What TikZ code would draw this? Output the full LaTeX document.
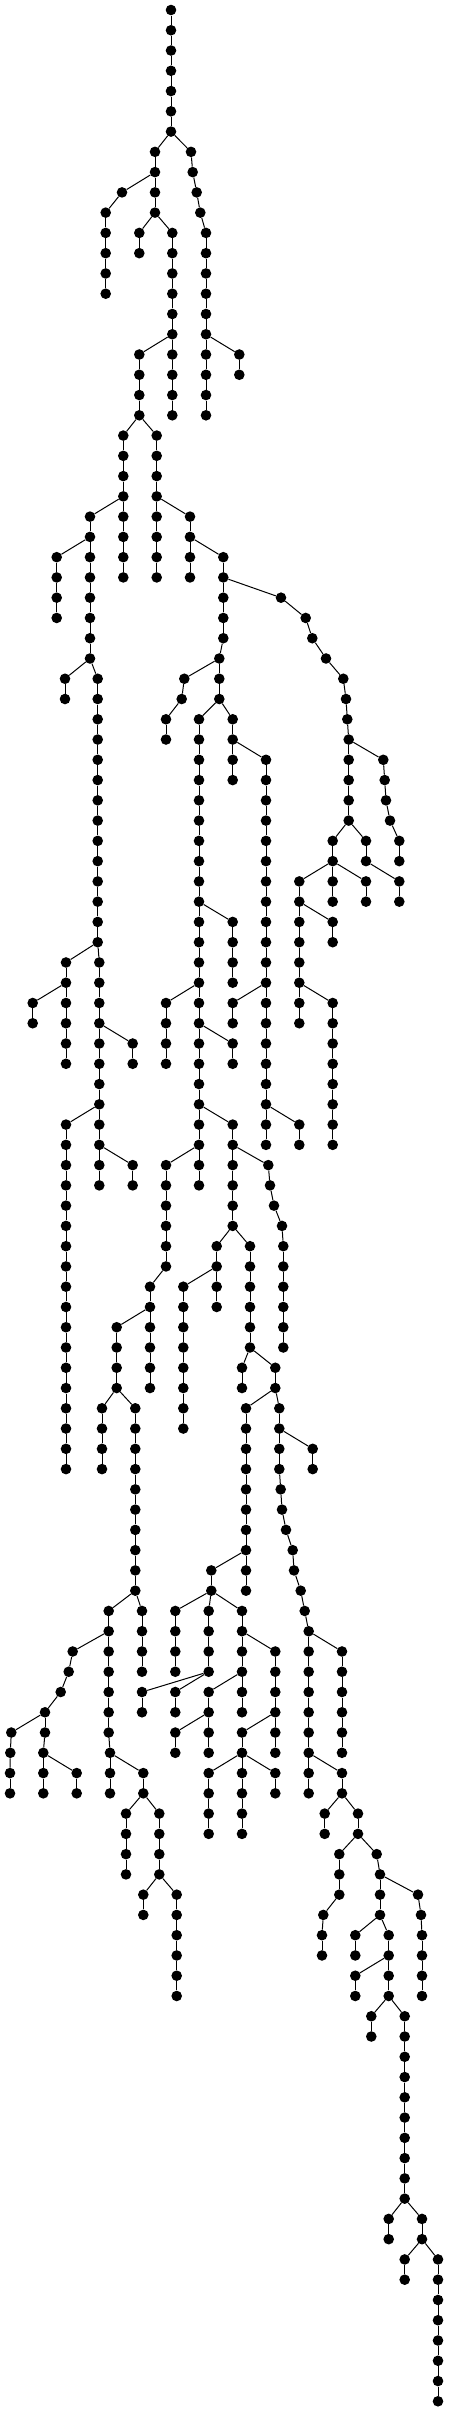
\documentclass[tikz,border=0pt]{standalone}
\tikzset{
  treedot/.style={circle, fill=black, draw=none, inner sep=0pt, minimum size=10.6pt},
  treeedge/.style={draw=black, line width=1pt}
}
\newcommand\seg[4]{%
  \foreach \xx [count=\i from 0, remember=\i as \j (initially 0)] in {#4} {%
    \pgfmathsetmacro\yy{10+20.265*(#3+\i)}%
    \node[treedot] (#1-\i) at (\xx,\yy) {};%
    \ifnum\i=0 \draw[treeedge] (#2) -- (#1-\i);\else \draw[treeedge] (#1-\j) -- (#1-\i);\fi
  }%
}
\begin{document}
\begin{tikzpicture}[x=1pt,y=-1pt]
\fill[white] (0,0) rectangle (448,2412);
\useasboundingbox (0,0) rectangle (448,2412);
\node[treedot] (root) at (171,10) {};
\seg{R}{root}{1}{171,171,171,171,171,171}
\seg{A}{R-5}{7}{155,155,155,155}
\seg{B}{R-5}{7}{191,192.7,196.7,200.3,206,206,206,206,206,206,206,206,206,206}
\seg{C}{A-1}{9}{122,105.7,105.7,105.7,105.7,105.7}
\seg{D}{B-9}{17}{239.3,239.3}
\seg{E}{A-3}{11}{139.3,139.3}
\seg{F}{A-3}{11}{172.3,172.3,172.3,172.3,172.3,172.3,172.3,172.3,172.3,172.3}
\seg{G}{F-5}{17}{139.3,139.3,139.3,139.3}
\seg{H}{G-3}{21}{123.3,123.3,123.3,123.3,123.3,123.3,123.3,123.3}
\seg{I}{G-3}{21}{156.7,156.7,156.7,156.7,156.7,156.7,156.7,156.7}
\seg{J}{H-3}{25}{90,90,90,90,90,90,90,90}
\seg{K}{J-1}{27}{56.7,56.7,56.7,56.7}
\seg{L}{I-3}{25}{190,190,190,190}
\seg{M}{L-1}{27}{223.3,223.3,223.3,223.3,223.3,219.3,219.3,219.3}
\seg{N}{M-1}{29}{281,305.7,312.3,326,343.3,346,347.3,348.7,348.7,348.7,348.7,348.7}
\seg{O}{J-7}{33}{65,65}
\seg{P}{J-7}{33}{97.7,97.7,97.7,97.7,97.7,97.7,97.7,97.7,97.7,97.7,97.7,97.7,97.7,97.7,99.3,99.3,99.3,99.3,99.3,99.3,99.3,99.3,99.3,99.3,99.3,99.3}
\seg{Q}{M-5}{33}{184.3,181.7,166,166}
\seg{S}{M-7}{35}{199,199,199,199,199,199,199,199,199,199,199,199,199,199,199,199,199,199,199,199,199,199,199,199}
\seg{T}{M-7}{35}{232.7,232.7,232.7,232.7}
\seg{U}{T-1}{37}{266,266,266,266,266,266,266,266,266,266,266,266,266,266,266,266,266,266,266,266}
\seg{V}{N-7}{37}{383.3,384.7,386,390,399.3,399.3}
\seg{W}{N-11}{41}{332.7,332.7}
\seg{X}{N-11}{41}{366,366}
\seg{Y}{P-13}{47}{66,66,66,66,66,66}
\seg{Z}{Y-1}{49}{32.7,32.7}
\seg{AA}{P-17}{51}{132.7,132.7}
\seg{AB}{P-21}{55}{66,66,66,66,66,66,66,66,66,66,66,66,66,66,66,66,66,66}
\seg{AC}{P-23}{57}{132.7,132.7}
\seg{AD}{S-9}{45}{232.7,232.7,232.7,232.7}
\seg{AE}{S-13}{49}{166,166,166,166}
\seg{AF}{S-15}{51}{232.7,232.7}
\seg{AG}{S-21}{57}{166,166,166,166,166,166,150,150,150,150,150,150}
\seg{AH}{AG-7}{65}{116.7,116.7,116.7,116.7}
\seg{AI}{AH-3}{69}{102,102,102,102}
\seg{AJ}{AH-3}{69}{135.3,135.3,135.3,135.3,135.3,135.3,135.3,135.3,135.3,135.3}
\seg{AK}{S-19}{55}{232.7,232.7,232.7,232.7,232.7,232.7}
\seg{AL}{AK-1}{57}{268.3,270,274,282,283.3,283.3,283.3,283.3,283.3,283.3}
\seg{AM}{AK-5}{61}{216.7,216.7,216.7,216.7}
\seg{AN}{AM-1}{63}{183.3,183.3,183.3,183.3,183.3,183.3,183.3,183.3}
\seg{AO}{AK-5}{61}{250,250,250,250,250,250}
\seg{AP}{AO-5}{67}{242,242}
\seg{AQ}{AO-5}{67}{275.3,275.3}
\seg{AR}{AQ-1}{69}{246,246,246,246,246,246,246,246,246,246}
\seg{AS}{AQ-1}{69}{279.3,279.3,279.3,279.3,280.7,282,286,292.7,294,300.7,304.7,308.7,308.7,308.7,308.7,308.7,308.7,308.7,308.7,308.7}
\seg{AT}{AS-1}{71}{312.7,312.7}
\seg{AU}{U-11}{49}{232.7,232.7}
\seg{AV}{U-17}{55}{299.3,299.3}
\seg{AW}{W-1}{43}{299.3,299.3,299.3,299.3,299.3,299.3,299.3,299.3}
\seg{AX}{W-1}{43}{332.7,332.7}
\seg{AY}{W-1}{43}{366,366}
\seg{AZ}{AW-1}{45}{332.7,332.7}
\seg{BA}{AW-5}{49}{332.7,332.7,332.7,332.7,332.7,332.7,332.7,332.7}
\seg{BB}{X-1}{43}{399.3,399.3}
\seg{BC}{AJ-9}{79}{108.7,108.7,108.7,108.7,108.7,108.7,108.7,110,110,110}
\seg{BD}{BC-1}{81}{72.7,68.7,60.7,45,45,43.3,43.3,43.3}
\seg{BE}{BD-3}{85}{11.3,10.3,10,10}
\seg{BF}{BD-5}{87}{76.7,76.7}
\seg{BG}{AJ-9}{79}{142,142,142,142}
\seg{BH}{AR-7}{77}{211.3,211.3}
\seg{BI}{BH-1}{79}{175.3,175.3,175.3,175.3}
\seg{BJ}{BH-1}{79}{208.7,208.7,208.7,208.7}
\seg{BK}{BJ-3}{83}{142,142}
\seg{BL}{BJ-3}{83}{175.3,175.3}
\seg{BM}{BH-1}{79}{242,242,242,242,242,242}
\seg{BN}{BM-3}{83}{208.7,208.7,208.7,208.7}
\seg{BO}{BN-1}{85}{175.3,175.3}
\seg{BP}{BM-1}{81}{275.3,275.3,275.3,275.3,275.3,275.3}
\seg{BQ}{BP-3}{85}{242,242}
\seg{BR}{AS-11}{81}{342,342,342,342,342,342}
\seg{BS}{AS-17}{87}{342,342}
\seg{BT}{BC-7}{87}{143.3,143.3}
\seg{BU}{BT-1}{89}{126,126,126,126}
\seg{BV}{BT-1}{89}{159.3,159.3,159.3,159.3}
\seg{BW}{BV-3}{93}{143.3,143.3}
\seg{BX}{BV-3}{93}{176.7,176.7,176.7,176.7,176.7,176.7}
\seg{BY}{BQ-1}{87}{208.7,208.7,208.7,208.7}
\seg{BZ}{BQ-1}{87}{242,242,242,242}
\seg{CA}{BQ-1}{87}{275.3,275.3}
\seg{CB}{BS-1}{89}{324.7,324.7}
\seg{CC}{BS-1}{89}{358,358}
\seg{CD}{CC-1}{91}{339.3,339.3,339.3,323.3,322,322}
\seg{CE}{CC-1}{91}{376.7,380,380,380}
\seg{CF}{CE-1}{93}{418,421,422,422,422,422}
\seg{CG}{CE-3}{95}{355.3,355.3}
\seg{CH}{CE-3}{95}{388.7,388.7,388.7,388.7}
\seg{CI}{CH-1}{97}{355.3,355.3}
\seg{CJ}{CH-3}{99}{371.3,371.3}
\seg{CK}{CH-3}{99}{404.7,404.7,404.7,404.7,404.7,404.7,404.7,404.7,404.7,404.7}
\seg{CL}{CK-9}{109}{388.7,388.7}
\seg{CM}{CK-9}{109}{422,422}
\seg{CN}{CM-1}{111}{404.7,404.7}
\seg{CO}{CM-1}{111}{438,438,438,438,438,438,438,438}
\end{tikzpicture}
\end{document}
